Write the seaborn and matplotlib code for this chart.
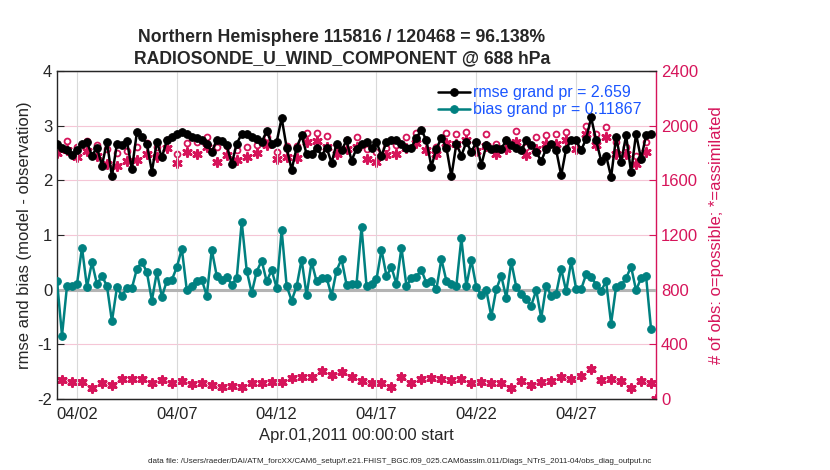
import numpy as np
import pandas as pd
import matplotlib
matplotlib.use("Agg")
import matplotlib.pyplot as plt
import seaborn as sns

# rmse / bias every 6 hours, Apr 01 00Z .. Apr 30 18Z
rmse = [2.67, 2.60, 2.55, 2.47, 2.55, 2.67, 2.70, 2.45, 2.60, 2.27,
        2.70, 2.07, 2.67, 2.64, 2.72, 2.20, 2.88, 2.79, 2.67, 2.16,
        2.70, 2.42, 2.73, 2.80, 2.85, 2.88, 2.85, 2.79, 2.77, 2.73,
        2.66, 2.52, 2.74, 2.72, 2.64, 2.30, 2.67, 2.85, 2.85, 2.80,
        2.76, 2.70, 2.90, 2.67, 2.70, 3.14, 2.60, 2.19, 2.60, 2.82,
        2.48, 2.48, 2.60, 2.45, 2.60, 2.32, 2.67, 2.55, 2.73, 2.36,
        2.58, 2.67, 2.70, 2.60, 2.70, 2.45, 2.70, 2.74, 2.73, 2.67,
        2.60, 2.60, 2.78, 2.92, 2.73, 2.25, 2.58, 2.77, 2.60, 2.07,
        2.67, 2.45, 2.70, 2.52, 2.70, 2.28, 2.64, 2.58, 2.60, 2.58,
        2.73, 2.64, 2.60, 2.55, 2.73, 2.64, 2.52, 2.35, 2.58, 2.67,
        2.55, 2.09, 2.58, 2.73, 2.73, 2.55, 2.76, 3.15, 2.73, 2.36,
        2.45, 2.06, 2.79, 2.33, 2.82, 2.15, 2.85, 2.39, 2.82, 2.85]
bias = [0.16, -0.84, 0.07, 0.07, 0.10, 0.77, 0.05, 0.50, 0.10, 0.25,
        0.07, -0.58, 0.04, -0.11, 0.03, 0.03, 0.38, 0.51, 0.32, -0.20,
        0.32, -0.13, 0.16, 0.18, 0.41, 0.75, -0.01, 0.07, 0.16, 0.18,
        -0.11, 0.73, 0.25, 0.18, 0.24, 0.09, 0.21, 1.24, 0.35, -0.06,
        0.33, 0.53, 0.15, 0.36, 0.03, 1.09, 0.07, -0.20, 0.06, 0.55,
        -0.10, 0.51, 0.15, 0.22, 0.22, -0.11, 0.35, 0.56, 0.09, 0.10,
        0.10, 1.15, 0.07, 0.10, 0.19, 0.73, 0.25, 0.41, 0.10, 0.77,
        0.07, 0.21, 0.24, 0.36, 0.12, 0.15, 0.01, 0.56, 0.16, 0.10,
        0.07, 0.94, 0.07, 0.54, 0.05, -0.10, -0.01, -0.49, 0.01, 0.25,
        -0.15, 0.51, 0.05, -0.08, -0.17, -0.29, -0.01, -0.52, 0.07, -0.11,
        -0.07, 0.38, -0.03, 0.52, 0.01, 0.01, 0.28, 0.24, 0.09, -0.02,
        0.15, -0.62, 0.05, 0.08, 0.21, 0.42, -0.01, 0.21, 0.25, -0.72]

# obs counts at 00Z/12Z (plus May 01 00Z) and at 06Z/18Z
poss_main = [1867, 1886, 1847, 1891, 1862, 1830, 1799, 1818, 1847, 1872,
             1847, 1896, 1789, 1874, 1879, 1915, 1842, 1850, 1823, 1842,
             1855, 1920, 1806, 1850, 1850, 1947, 1947, 1922, 1862, 1896,
             1920, 1830, 1806, 1835, 1862, 1915, 1947, 1896, 1842, 1947,
             1939, 1956, 1884, 1939, 1867, 1898, 1964, 1842, 1915, 1935,
             1939, 1956, 1896, 2000, 1939, 1988, 1879, 1847, 1775, 1879, 0]
used_main = [1799, 1823, 1770, 1813, 1775, 1721, 1702, 1738, 1750, 1794,
             1770, 1835, 1728, 1806, 1789, 1842, 1733, 1782, 1750, 1770,
             1801, 1855, 1758, 1770, 1765, 1879, 1891, 1842, 1789, 1830,
             1847, 1758, 1733, 1782, 1794, 1835, 1872, 1823, 1794, 1872,
             1867, 1896, 1818, 1850, 1794, 1830, 1879, 1782, 1830, 1867,
             1867, 1896, 1830, 1939, 1859, 1915, 1794, 1794, 1721, 1806, 0]
obs_off = [139, 127, 127, 78, 114, 102, 146, 146, 146, 119,
           139, 114, 131, 107, 119, 102, 90, 95, 90, 119,
           114, 127, 127, 151, 163, 163, 207, 175, 195, 158,
           131, 119, 119, 90, 158, 114, 146, 151, 146, 139,
           146, 119, 127, 119, 119, 78, 131, 102, 127, 131,
           163, 146, 170, 217, 139, 146, 131, 78, 131, 114]

xtick_days = [1, 6, 11, 16, 21, 26]
xtick_labels = ["04/02", "04/07", "04/12", "04/17", "04/22", "04/27"]

teal = "#008080"
crimson = "#d6145a"
legblue = "#1a55ff"
ink = "#262626"

df = pd.DataFrame({"day": np.arange(len(rmse)) * 0.25, "rmse": rmse, "bias": bias})
obs_main = pd.DataFrame({"day": np.arange(len(poss_main)) * 0.5,
                         "poss": poss_main, "used": used_main})
obs_low = pd.DataFrame({"day": np.arange(len(obs_off)) * 0.5 + 0.25, "n": obs_off})

sns.set_style("white")
plt.rcParams["font.family"] = ["Liberation Sans", "DejaVu Sans"]
plt.rcParams["axes.unicode_minus"] = False

fig = plt.figure(figsize=(8.3, 4.7), dpi=100)
ax = fig.add_axes([0.0687, 0.151, 0.7217, 0.698])
ax2 = ax.twinx()

# right axis: obs counts, circles = possible, asterisks = assimilated
sns.scatterplot(data=obs_main, x="day", y="poss", ax=ax2, marker="o", s=18,
                facecolor="white", edgecolor=crimson, linewidth=1.3, zorder=3)
sns.scatterplot(data=obs_main, x="day", y="used", ax=ax2, marker=(6, 2, 0), s=34,
                color=crimson, linewidth=2.0, edgecolor=crimson, zorder=3)
sns.scatterplot(data=obs_low, x="day", y="n", ax=ax2, marker="o", s=18,
                facecolor="white", edgecolor=crimson, linewidth=1.3, zorder=3)
sns.scatterplot(data=obs_low, x="day", y="n", ax=ax2, marker=(6, 2, 0), s=34,
                color=crimson, linewidth=2.0, edgecolor=crimson, zorder=3)
ax2.set_ylim(0, 2400)
ax2.set_yticks(range(0, 2401, 400))
ax2.yaxis.grid(True, color="#f5c6d6", lw=0.8)
ax2.tick_params(axis="y", colors=crimson, labelsize=12, direction="in", length=5)
ax2.set_ylabel("# of obs: o=possible; *=assimilated", color=crimson, fontsize=12,
               labelpad=8)
ax2.spines["right"].set_color(crimson)
ax2.spines["right"].set_linewidth(1.0)

# left axis: rmse and bias
ax.set_zorder(ax2.get_zorder() + 1)
ax.patch.set_visible(False)
ax.axhline(0, color="#b4b4b4", lw=2.2, zorder=1)
sns.lineplot(data=df, x="day", y="rmse", ax=ax, color="black", lw=1.8,
             marker="o", markersize=5.5, markeredgecolor="black",
             label="rmse grand pr = 2.659", zorder=4)
sns.lineplot(data=df, x="day", y="bias", ax=ax, color=teal, lw=1.8,
             marker="o", markersize=5.5, markeredgecolor=teal,
             label="bias grand pr = 0.11867", zorder=4)

ax.set_xlim(0, 30)
ax.set_ylim(-2, 4)
ax.set_yticks(range(-2, 5))
ax.set_xticks(xtick_days)
ax.set_xticklabels(xtick_labels)
ax.xaxis.grid(True, color="#d9d9d9", lw=0.8)
ax.yaxis.grid(False)
ax.tick_params(axis="both", labelsize=12, direction="in", length=5, colors=ink)
ax.tick_params(axis="x", pad=6)
ax.set_xlabel("Apr.01,2011 00:00:00 start", fontsize=12, color=ink, labelpad=4)
ax.set_ylabel("rmse and bias (model - observation)", fontsize=12, color=ink,
              labelpad=4)
for s in ("left", "top", "bottom"):
    ax.spines[s].set_color(ink)
    ax.spines[s].set_linewidth(1.0)
ax.spines["right"].set_visible(False)
ax2.spines["left"].set_visible(False)

leg = ax.legend(loc="upper right", bbox_to_anchor=(1.0, 1.0), frameon=False,
                fontsize=11.5, handlelength=2.0, handletextpad=0.2,
                labelspacing=0.12, borderaxespad=0.5)
for t in leg.get_texts():
    t.set_color(legblue)

fig.text(0.412, 0.898, "Northern Hemisphere 115816 / 120468 = 96.138%\n"
         "RADIOSONDE_U_WIND_COMPONENT @ 688 hPa", ha="center", va="center",
         fontsize=12.7, fontweight="bold", linespacing=1.3)
fig.text(0.481, 0.019, "data file: /Users/raeder/DAI/ATM_forcXX/CAM6_setup/"
         "f.e21.FHIST_BGC.f09_025.CAM6assim.011/Diags_NTrS_2011-04/obs_diag_output.nc",
         ha="center", va="center", fontsize=5.75)

fig.savefig("out.png", dpi=100)
